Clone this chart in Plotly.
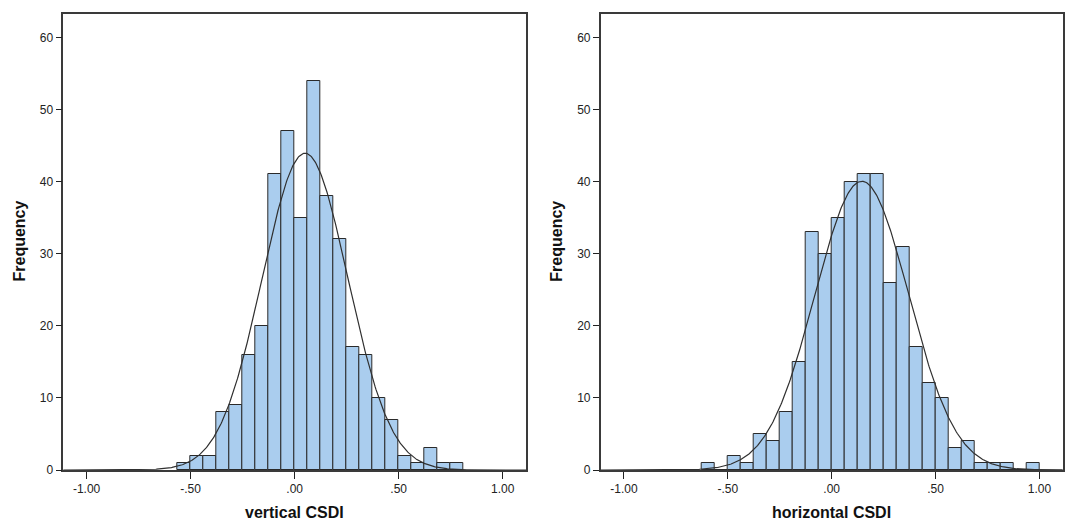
import numpy as np
import plotly.graph_objects as go

# ---- data ----
bin_width = 0.0625

v_start = -0.5625
v_counts = [1, 2, 2, 8, 9, 16, 20, 41, 47, 35, 54, 38, 32, 17, 16, 10, 7, 2, 1, 3, 1, 1]
v_mean, v_sd = 0.05, 0.206

h_start = -0.625
h_counts = [1, 0, 2, 1, 5, 4, 8, 15, 33, 30, 35, 40, 41, 41, 26, 31, 17, 12, 10, 3, 4, 1, 1, 1, 0, 1]
h_mean, h_sd = 0.145, 0.226

x_tickvals = [-1.0, -0.5, 0.0, 0.5, 1.0]
x_ticktext = ["-1.00", "-.50", ".00", ".50", "1.00"]
y_tickvals = [0, 10, 20, 30, 40, 50, 60]

x_titles = ["vertical CSDI", "horizontal CSDI"]
y_title = "Frequency"

# ---- figure ----
W, H = 1065, 521
FONT = "Liberation Sans, Arial, sans-serif"
BAR_FILL = "rgb(170,205,238)"

fig = go.Figure()

def add_panel(start, counts, mean, sd, xa, ya):
    counts = np.array(counts, dtype=float)
    centers = start + bin_width * (np.arange(len(counts)) + 0.5)
    fig.add_trace(go.Bar(
        x=centers, y=counts, width=bin_width,
        marker=dict(color=BAR_FILL, line=dict(color="#2a2a2a", width=1)),
        xaxis=xa, yaxis=ya, showlegend=False, hoverinfo="x+y"))
    n = counts.sum()
    xs = np.linspace(-1.12, 1.12, 600)
    ys = n * bin_width * np.exp(-0.5 * ((xs - mean) / sd) ** 2) / (sd * np.sqrt(2 * np.pi))
    fig.add_trace(go.Scatter(
        x=xs, y=ys, mode="lines", line=dict(color="#303030", width=1.2),
        xaxis=xa, yaxis=ya, showlegend=False, hoverinfo="skip"))

add_panel(v_start, v_counts, v_mean, v_sd, "x", "y")
add_panel(h_start, h_counts, h_mean, h_sd, "x2", "y2")

y_dom = [(H - 470) / H, (H - 14) / H]
x_doms = [[63.3 / W, 526 / W], [600.7 / W, 1062.7 / W]]

xcommon = dict(range=[-1.112, 1.112], tickvals=x_tickvals, ticktext=x_ticktext,
               ticks="outside", ticklen=7, tickwidth=1.2, tickcolor="#222",
               showline=True, mirror=True, linecolor="#3a3a3a", linewidth=1.6,
               showgrid=False, zeroline=False, automargin=False,
               tickfont=dict(family=FONT, size=12, color="#222"))
ycommon = dict(range=[0, 63.25], tickvals=y_tickvals,
               ticks="outside", ticklen=6, tickwidth=1.2, tickcolor="#222",
               showline=True, mirror=True, linecolor="#3a3a3a", linewidth=1.6,
               showgrid=False, zeroline=False, automargin=False,
               tickfont=dict(family=FONT, size=12, color="#222"))

fig.update_layout(
    template="none",
    width=W, height=H,
    autosize=False,
    margin=dict(l=0, r=0, t=0, b=0, pad=0, autoexpand=False),
    paper_bgcolor="white", plot_bgcolor="white",
    bargap=0,
    xaxis=dict(domain=x_doms[0], anchor="y", **xcommon),
    yaxis=dict(domain=y_dom, anchor="x", **ycommon),
    xaxis2=dict(domain=x_doms[1], anchor="y2", **xcommon),
    yaxis2=dict(domain=y_dom, anchor="x2", **ycommon),
)

annos = []
for i, (dom, t) in enumerate(zip(x_doms, x_titles)):
    annos.append(dict(text=t, xref="paper", yref="paper",
                      x=(dom[0] + dom[1]) / 2, y=(H - 512.5) / H,
                      xanchor="center", yanchor="middle", showarrow=False,
                      font=dict(family=FONT, size=16, color="#111", weight="bold")))
for xpx in [19.5, 556.7]:
    annos.append(dict(text=y_title, xref="paper", yref="paper",
                      x=xpx / W, y=(H - 241) / H, textangle=-90,
                      xanchor="center", yanchor="middle", showarrow=False,
                      font=dict(family=FONT, size=16, color="#111", weight="bold")))
fig.update_layout(annotations=annos)

fig.write_html(
    "out.html",
    config={"displayModeBar": False},
    post_script="document.body.style.margin='0';document.body.style.overflow='hidden';",
)
